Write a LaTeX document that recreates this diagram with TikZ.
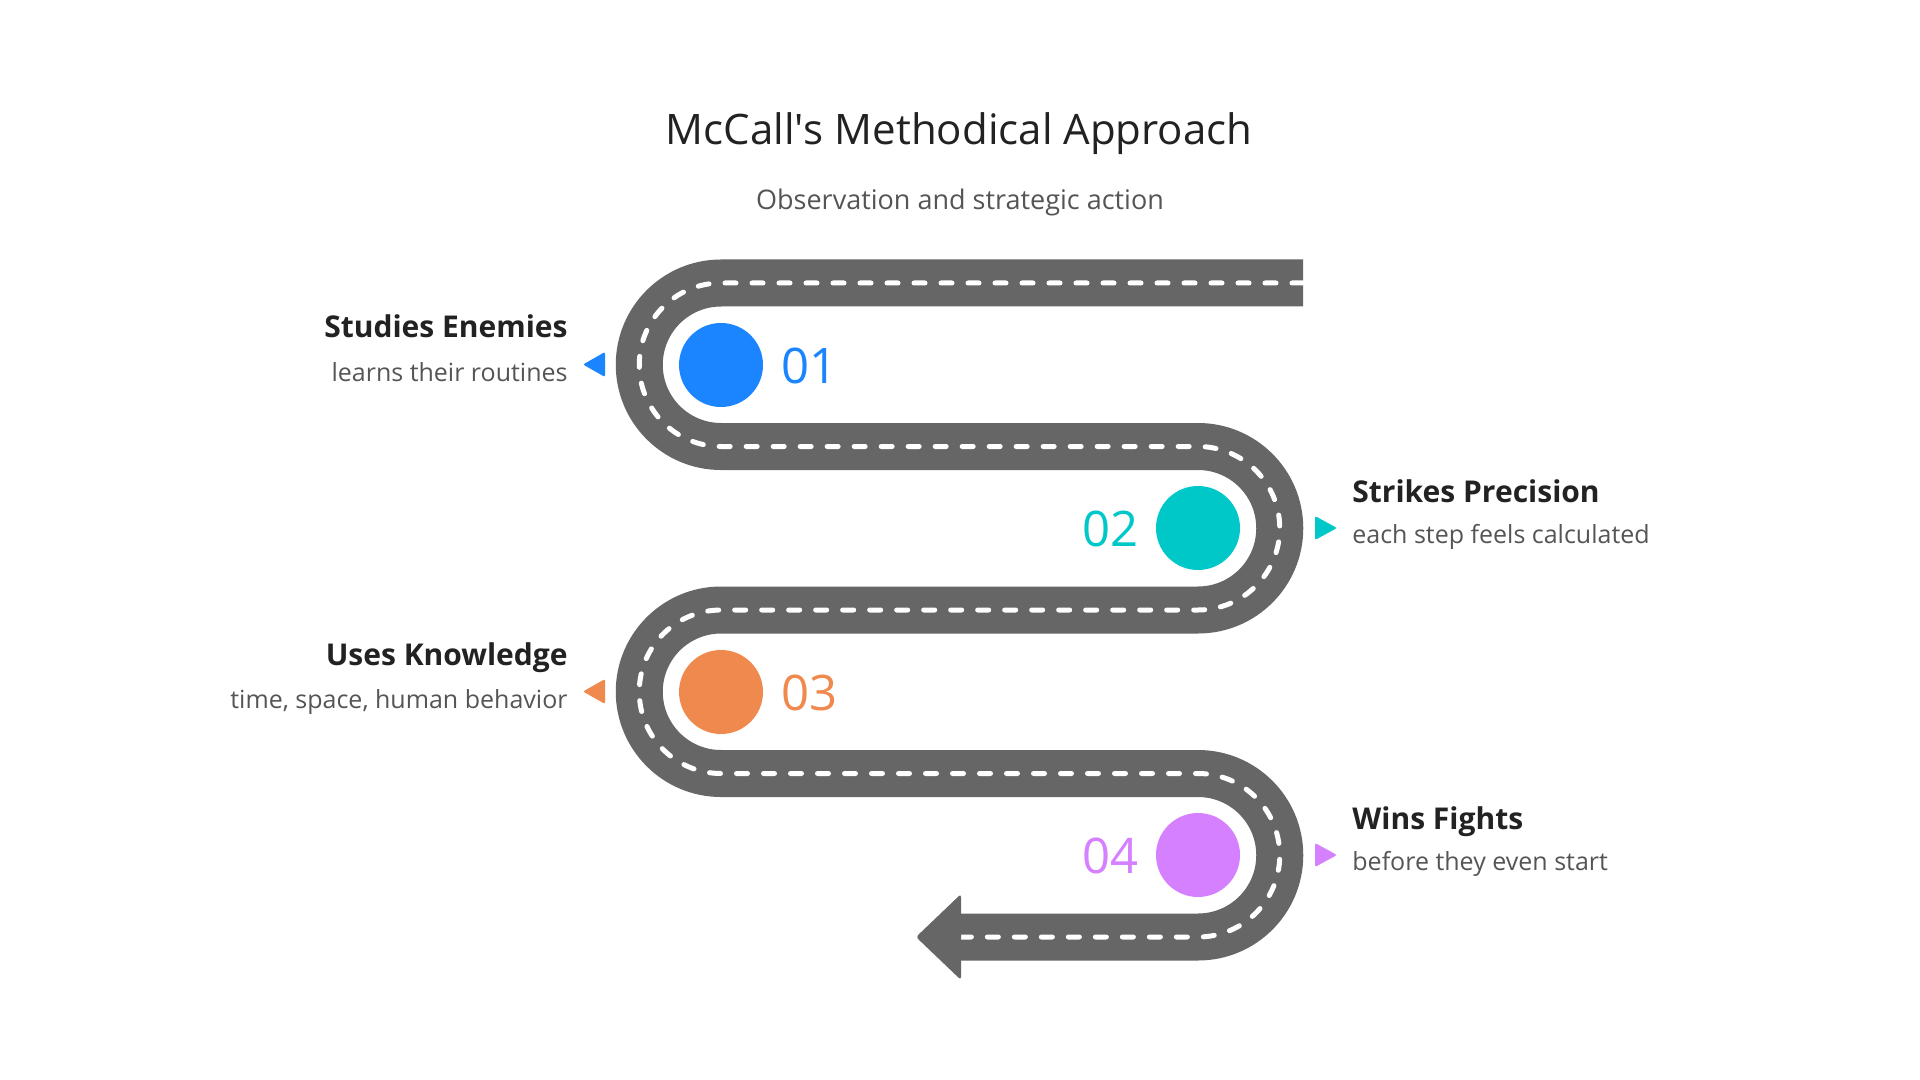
\documentclass[tikz,border=0pt]{standalone}
\usepackage{fontspec}
\setmainfont{Open Sans}
\usetikzlibrary{calc}
\definecolor{roadgray}{HTML}{666666}
\definecolor{stepblue}{HTML}{1A85FF}
\definecolor{stepteal}{HTML}{00C8C8}
\definecolor{steporange}{HTML}{F0894D}
\definecolor{steppurple}{HTML}{D580FF}
\definecolor{headtext}{HTML}{222222}
\definecolor{subtext}{HTML}{555555}
\tikzset{
  heading/.style={inner sep=0pt, text=headtext, font=\fontsize{15}{18}\selectfont\bfseries},
  subline/.style={inner sep=0pt, text=subtext, font=\fontsize{12.5}{15}\selectfont},
  stepnum/.style={inner sep=0pt, font=\fontsize{24.5}{28}\selectfont},
  stepdot/.style={circle, inner sep=0pt, minimum size=42pt},
}

\begin{document}
\begin{tikzpicture}[x=0.5pt, y=-0.5pt]
			%%%%% START %%%%%
			\useasboundingbox[fill=white] (0, 0) rectangle (1920, 1080);
			
			\node[inner sep=0pt, text=headtext, font=\fontsize{21}{25}\selectfont, anchor=base] (title) at (959, 145) {McCall\textquotesingle s Methodical Approach};
			\node[inner sep=0pt, text=subtext, font=\fontsize{13.5}{16}\selectfont, anchor=base] (subtitle) at (960, 210) {Observation and strategic action};
			
			% road
			\draw[line width=23.5pt, color=roadgray, postaction={draw=white, line width=2.5pt, line cap=round, dash pattern=on 5.5pt off 8pt}]
			  (1303, 283) -- (721, 283) arc (270:90:81.75) -- (1198, 446.5) arc (-90:90:81.75)
			  -- (721, 610) arc (270:90:81.75) -- (1198, 773.5) arc (-90:90:81.75) -- (961, 937);
			\fill[roadgray, rounded corners=1.5pt] (961, 937) -- (961, 894) -- (916, 937) -- (961, 980) -- cycle;
			
			% steps
			\node[stepdot, fill=stepblue] (dot1) at (721, 365) {};
			\node[stepdot, fill=stepteal] (dot2) at (1198, 528) {};
			\node[stepdot, fill=steporange] (dot3) at (721, 692) {};
			\node[stepdot, fill=steppurple] (dot4) at (1198, 855) {};
			
			\node[stepnum, text=stepblue, anchor=base west] (num1) at (781, 383) {01};
			\node[stepnum, text=stepteal, anchor=base east] (num2) at (1139, 546) {02};
			\node[stepnum, text=steporange, anchor=base west] (num3) at (781, 710) {03};
			\node[stepnum, text=steppurple, anchor=base east] (num4) at (1139, 873) {04};
			
			\fill[stepblue, rounded corners=1pt] (605, 352) -- (605, 377) -- (583, 364.5) -- cycle;
			\fill[stepteal, rounded corners=1pt] (1315, 516) -- (1315, 540) -- (1337, 528) -- cycle;
			\fill[steporange, rounded corners=1pt] (605, 679) -- (605, 704) -- (583, 691.5) -- cycle;
			\fill[steppurple, rounded corners=1pt] (1315, 843) -- (1315, 867) -- (1337, 855) -- cycle;
			
			\node[heading, anchor=base east] (head1) at (568, 338) {Studies Enemies};
			\node[subline, anchor=base east] (sub1) at (568, 381) {learns their routines};
			\node[heading, anchor=base west] (head2) at (1352, 502) {Strikes Precision};
			\node[subline, anchor=base west] (sub2) at (1352, 543) {each step feels calculated};
			\node[heading, anchor=base east] (head3) at (568, 665) {Uses Knowledge};
			\node[subline, anchor=base east] (sub3) at (568, 708) {time, space, human behavior};
			\node[heading, anchor=base west] (head4) at (1352, 829) {Wins Fights};
			\node[subline, anchor=base west] (sub4) at (1352, 870) {before they even start};
			
			%%%%% END %%%%%
\end{tikzpicture}
\end{document}
